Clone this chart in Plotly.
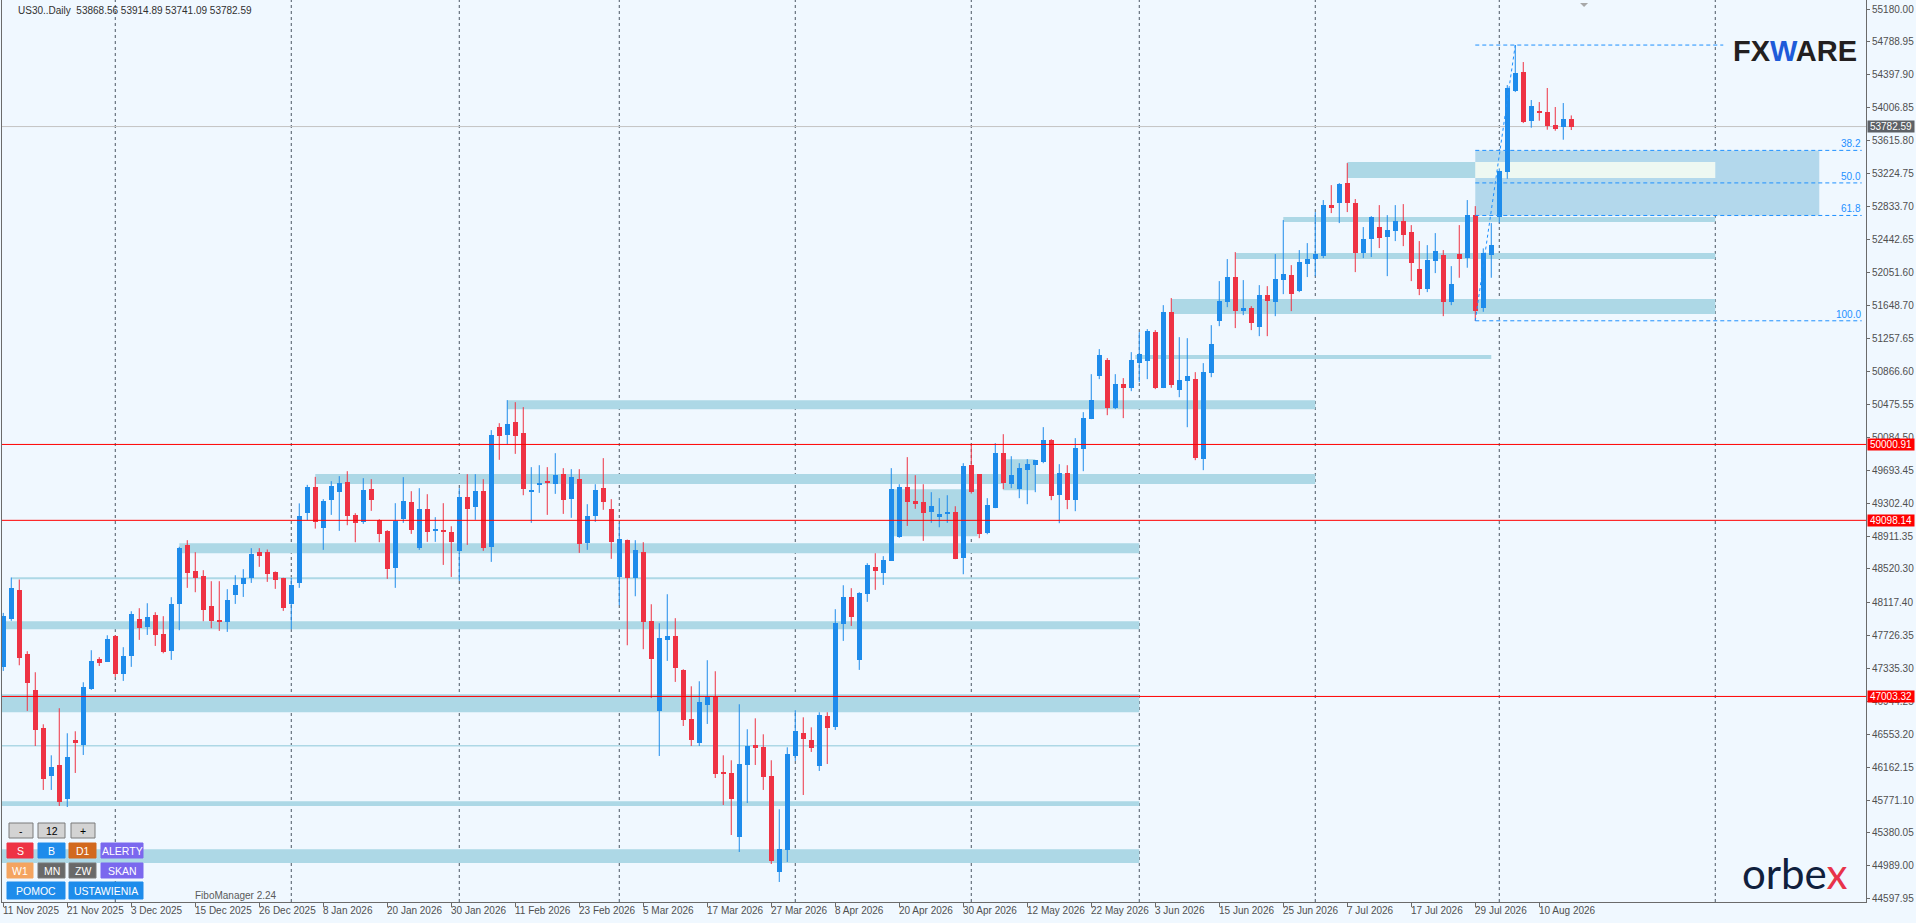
import pandas as pd
import plotly.graph_objects as go

# frame of the MT4 price window, in page pixels
W, H = 1916, 923
PLOT_L, PLOT_R, PLOT_B = 2, 1866, 902
Y_TOP, Y_BOT = 55288, 44558
X_MIN, X_MAX = -0.16, 232.84

FONT = "Liberation Sans, Arial, sans-serif"
BG = "#F0F8FF"
UP = "#1E8CEB"
DOWN = "#EE3344"
ZONE = "#ADD8E6"

SYMBOL = "US30..Daily"
START, END = "2025-11-11", "2026-08-14"
HOLIDAYS = ["2025-12-25", "2026-01-01"]

DATE_LABELS = [
    "11 Nov 2025", "21 Nov 2025", "3 Dec 2025", "15 Dec 2025", "26 Dec 2025",
    "8 Jan 2026", "20 Jan 2026", "30 Jan 2026", "11 Feb 2026", "23 Feb 2026",
    "5 Mar 2026", "17 Mar 2026", "27 Mar 2026", "8 Apr 2026", "20 Apr 2026",
    "30 Apr 2026", "12 May 2026", "22 May 2026", "3 Jun 2026", "15 Jun 2026",
    "25 Jun 2026", "7 Jul 2026", "17 Jul 2026", "29 Jul 2026", "10 Aug 2026",
]

PRICE_TICKS = [
    55180.00, 54788.95, 54397.90, 54006.85, 53615.80, 53224.75, 52833.70,
    52442.65, 52051.60, 51648.70, 51257.65, 50866.60, 50475.55, 50084.50,
    49693.45, 49302.40, 48911.35, 48520.30, 48117.40, 47726.35, 47335.30,
    46944.25, 46553.20, 46162.15, 45771.10, 45380.05, 44989.00, 44597.95,
]

OPEN = [
    47355, 47926, 48267, 47505, 47077, 46625, 46057, 46184, 45784, 46482,
    46426, 47093, 47446, 47414, 47719, 47271, 47485, 47922, 47831, 47969,
    47743, 47545, 48104, 48802, 48493, 48433, 48076, 47910, 47890, 48211,
    48342, 48414, 48719, 48719, 48481, 48410, 48104, 48354, 49180, 49493,
    49009, 49342, 49437, 49552, 49159, 49080, 49469, 49100, 48969, 48533,
    49116, 49314, 48771, 49231, 48973, 48981, 48957, 48735, 49374, 49259,
    49445, 48782, 50207, 50111, 50266, 50135, 49437, 49520, 49564, 49532,
    49647, 49354, 49588, 48830, 49151, 49481, 49231, 48426, 48862, 48414,
    48719, 47898, 46831, 47676, 47719, 47315, 46731, 46450, 46902, 46997,
    46097, 46093, 45331, 46188, 46422, 46398, 46053, 44915, 45177, 46295,
    46565, 46482, 46176, 46767, 46640, 47866, 48184, 47438, 48223, 48541,
    48473, 48616, 48902, 49493, 49326, 49314, 49195, 49135, 49175, 49195,
    48652, 49754, 49647, 48945, 49243, 49897, 49528, 49469, 49695, 49754,
    49790, 50052, 49397, 49659, 49338, 49945, 50302, 50813, 51004, 50433,
    50718, 50671, 50968, 50992, 51337, 50671, 51575, 50647, 50754, 50778,
    49826, 50849, 51468, 51694, 51992, 51587, 51623, 51396, 51777, 51694,
    51956, 52015, 51825, 52146, 52206, 52241, 52848, 52872, 53110, 52872,
    52277, 52444, 52587, 52468, 52539, 52658, 52527, 52087, 51849, 52182,
    52253, 51694, 52265, 52221, 52729, 51626, 52257, 52709, 53245, 54205,
    54431, 53852, 53967, 53955, 53800, 53780, 53868.56,
]
HIGH = [
    47997, 48418, 48394, 47541, 47291, 46672, 46303, 46863, 46565, 46589,
    47172, 47553, 47470, 47731, 47731, 47589, 48017, 48053, 48112, 48005,
    47958, 48184, 48783, 48862, 48719, 48505, 48374, 48374, 48279, 48445,
    48517, 48767, 48767, 48751, 48490, 48415, 48414, 49300, 49520, 49615,
    49350, 49564, 49624, 49683, 49183, 49600, 49588, 49112, 48981, 49302,
    49612, 49445, 49481, 49409, 49136, 49302, 49028, 49481, 49647, 49647,
    49588, 50171, 50254, 50528, 50504, 50445, 49731, 49754, 49731, 49897,
    49719, 49707, 49707, 49290, 49528, 49838, 49350, 49064, 48870, 48862,
    48838, 48100, 47874, 48219, 47934, 47327, 47124, 47184, 47434, 47303,
    46303, 46244, 46910, 46613, 46743, 46553, 46244, 45661, 46398, 46839,
    46755, 46636, 46815, 46815, 48041, 48326, 48291, 48243, 48588, 48707,
    48672, 49719, 49528, 49850, 49635, 49528, 49433, 49362, 49397, 49266,
    49778, 50004, 49647, 49362, 50016, 50123, 49861, 49778, 49826, 49814,
    50207, 50064, 49766, 49754, 50076, 50385, 50837, 51135, 51028, 50837,
    50790, 51099, 51337, 51373, 51361, 51658, 51742, 51277, 51265, 50861,
    50968, 51420, 51944, 52206, 52289, 51956, 51646, 51896, 51884, 52265,
    52670, 52134, 52313, 52396, 52765, 52908, 53086, 53110, 53348, 52920,
    52587, 52717, 52848, 52729, 52848, 52860, 52610, 52420, 52372, 52515,
    52313, 52122, 52610, 52908, 52836, 52333, 52634, 53285, 54276, 54752,
    54550, 54098, 54074, 54241, 54015, 54062, 53914.89,
]
LOW = [
    47307, 47902, 47374, 46831, 46414, 45891, 45891, 45700, 45688, 46093,
    46307, 47081, 47366, 47414, 47235, 47188, 47355, 47676, 47735, 47604,
    47517, 47438, 47791, 48295, 48243, 47898, 47815, 47783, 47771, 48104,
    48187, 48354, 48545, 48366, 48283, 48021, 47803, 48295, 49100, 49000,
    48747, 49163, 48973, 49040, 48838, 49056, 49211, 48838, 48402, 48295,
    49068, 48937, 48747, 48842, 48842, 48568, 48425, 48378, 48806, 49104,
    48735, 48604, 49818, 50004, 49889, 49397, 49068, 49425, 49163, 49413,
    49175, 49128, 48711, 48747, 49080, 49223, 48640, 48088, 47612, 48195,
    47565, 46985, 46295, 47426, 47176, 46652, 46414, 46414, 46676, 46033,
    45712, 45355, 45153, 45736, 46188, 45891, 45010, 44796, 45034, 46236,
    45831, 46343, 46117, 46200, 46605, 47664, 47842, 47319, 48128, 48271,
    48330, 48616, 48890, 49032, 49235, 48854, 49068, 49016, 49068, 48636,
    48457, 49417, 48886, 48933, 49243, 49469, 49481, 49362, 49290, 49433,
    49778, 49338, 49064, 49231, 49207, 49683, 50302, 50778, 50349, 50421,
    50314, 50635, 50742, 50778, 50659, 50671, 50675, 50563, 50206, 49814,
    49695, 50801, 51408, 51634, 51385, 51539, 51361, 51289, 51289, 51527,
    51789, 51587, 51813, 51992, 52003, 52218, 52753, 52634, 52765, 52051,
    52218, 52230, 52337, 52003, 52420, 52360, 51944, 51777, 51813, 52039,
    51527, 51658, 51984, 52103, 51472, 51579, 51984, 52638, 53162, 54193,
    53824, 53769, 53852, 53745, 53733, 53626, 53741.09,
]
CLOSE = [
    47957, 48291, 47462, 47164, 46605, 46022, 46160, 45748, 46279, 46450,
    47112, 47422, 47402, 47684, 47271, 47481, 47981, 47819, 47946, 47735,
    47529, 48100, 48771, 48473, 48414, 48033, 47902, 47898, 48148, 48326,
    48410, 48695, 48676, 48461, 48390, 48057, 48326, 49150, 49496, 49080,
    49326, 49505, 49540, 49147, 49068, 49457, 49342, 48937, 48521, 49088,
    49326, 48985, 49231, 48961, 48993, 48961, 48842, 49374, 49235, 49445,
    48771, 50111, 50100, 50242, 50100, 49469, 49457, 49540, 49544, 49635,
    49342, 49612, 48818, 49151, 49457, 49318, 48842, 48874, 48414, 48743,
    47890, 47450, 47696, 47719, 47343, 46724, 46486, 46934, 46997, 46081,
    46081, 45783, 46196, 46410, 46394, 46045, 45046, 45185, 46315, 46589,
    46498, 46390, 46779, 46629, 47874, 48184, 47950, 48231, 48564, 48497,
    48624, 49469, 49493, 49318, 49298, 49187, 49266, 49179, 49195, 48644,
    49742, 49433, 48933, 49278, 49897, 49540, 49635, 49719, 49766, 49814,
    50052, 49385, 49659, 49338, 49957, 50314, 50528, 51063, 50433, 50718,
    50671, 51004, 51075, 51349, 50671, 51575, 50706, 50766, 50813, 49838,
    50861, 51194, 51706, 51992, 51587, 51623, 51444, 51777, 51706, 51968,
    52027, 51789, 52170, 52206, 52265, 52848, 52825, 53098, 52872, 52277,
    52444, 52706, 52456, 52551, 52658, 52491, 52158, 51849, 52194, 52301,
    51694, 51908, 52210, 52729, 51591, 52277, 52372, 53249, 54241, 54419,
    53836, 54023, 53951, 53792, 53757, 53872, 53782.59,
]

# horizontal levels drawn on the chart
RED_LEVELS = [50000.91, 49098.14, 47003.32]
LAST_PRICE = CLOSE[-1]

# supply / demand zones: (from bar, to bar, low, high)
ZONES = [
    (168, 184, 53170, 53360),
    (160, 214, 52647, 52706),
    (154, 214, 52206, 52277),
    (146, 214, 51552, 51730),
    (141.5, 186, 51016, 51064),
    (63, 164, 50421, 50528),
    (39, 164, 49529, 49648),
    (22, 142, 48707, 48826),
    (1, 142, 48398, 48422),
    (-1, 142, 47803, 47898),
    (-1, 142, 46816, 47030),
    (-1, 142, 46408, 46426),
    (-1, 142, 45700, 45756),
    (-1, 142, 45022, 45185),
    (111.2, 121.8, 48910, 49469),
    (125, 129, 49457, 49826),
]
ZONE_XOR = (184, 214, 53170, 53360)

# fibonacci retracement, anchored on swing low and swing high
FIB_LOW_BAR, FIB_HIGH_BAR = 184, 189
FIB_LEVELS = [0.0, 38.2, 50.0, 61.8, 100.0]
FIB_LABELS = ["", "38.2", "50.0", "61.8", "100.0"]

BUTTONS = [
    # text, x0, x1, y0, y1, fill, text colour
    ("-", 9, 33, 823, 838, "#D3D3D3", "#000000"),
    ("12", 38, 65, 823, 838, "#D3D3D3", "#000000"),
    ("+", 71, 95, 823, 838, "#D3D3D3", "#000000"),
    ("S", 7, 33, 843, 858, "#EE3344", "#FFFFFF"),
    ("B", 38, 65, 843, 858, "#1E8CEB", "#FFFFFF"),
    ("D1", 69, 96, 843, 858, "#D2691E", "#FFFFFF"),
    ("ALERTY", 101, 143, 843, 858, "#7B68EE", "#FFFFFF"),
    ("W1", 7, 33, 863, 878, "#F4A460", "#FFFFFF"),
    ("MN", 38, 65, 863, 878, "#696969", "#FFFFFF"),
    ("ZW", 69, 96, 863, 878, "#696969", "#FFFFFF"),
    ("SKAN", 101, 143, 863, 878, "#7B68EE", "#FFFFFF"),
    ("POMOC", 7, 65, 882, 899, "#1E8CEB", "#FFFFFF"),
    ("USTAWIENIA", 69, 143, 882, 899, "#1E8CEB", "#FFFFFF"),
]


def xp(px):
    return (px - PLOT_L) / (PLOT_R - PLOT_L)


def yp(py):
    return 1 - py / PLOT_B


dates = pd.bdate_range(START, END)
dates = dates[~dates.isin(pd.to_datetime(HOLIDAYS))]
n = len(CLOSE)
bars = list(range(n))

# month starts -> vertical grid (plus the one drawn in the future area)
grid_bars = [i for i in range(1, n) if dates[i].month != dates[i - 1].month] + [214]

fig = go.Figure()

# bodies
body_base = [min(o, c) for o, c in zip(OPEN, CLOSE)]
body_h = [max(abs(c - o), 12) for o, c in zip(OPEN, CLOSE)]
colors = [UP if c >= o else DOWN for o, c in zip(OPEN, CLOSE)]

for col in (UP, DOWN):
    xs, ys = [], []
    for i in bars:
        if colors[i] == col:
            xs += [i, i, None]
            ys += [LOW[i], HIGH[i], None]
    fig.add_trace(go.Scatter(x=xs, y=ys, mode="lines", line=dict(color=col, width=1),
                             hoverinfo="skip", showlegend=False))

fig.add_trace(go.Bar(x=bars, y=body_h, base=body_base, width=0.625,
                     marker=dict(color=colors, line=dict(width=0)),
                     showlegend=False, hoverinfo="skip"))

shapes = []

# fib zone fill
fib_hi, fib_lo = HIGH[FIB_HIGH_BAR], LOW[FIB_LOW_BAR]
fib_price = [fib_hi - lv / 100 * (fib_hi - fib_lo) for lv in FIB_LEVELS]
shapes.append(dict(type="rect", xref="x", yref="y", layer="below",
                   x0=FIB_LOW_BAR, x1=227, y0=fib_price[3], y1=fib_price[1],
                   fillcolor="#B3D8EC", line=dict(width=0)))

for x0, x1, lo, hi in ZONES:
    shapes.append(dict(type="rect", xref="x", yref="y", layer="below",
                       x0=x0, x1=x1, y0=lo, y1=hi, fillcolor=ZONE, line=dict(width=0)))
x0, x1, lo, hi = ZONE_XOR
shapes.append(dict(type="rect", xref="x", yref="y", layer="below",
                   x0=x0, x1=x1, y0=lo, y1=hi, fillcolor="#EEF8F2", line=dict(width=0)))

# month grid
for g in grid_bars:
    shapes.append(dict(type="line", xref="x", yref="paper", layer="below",
                       x0=g, x1=g, y0=0, y1=1,
                       line=dict(color="#4B5663", width=1, dash="3px,3px")))

# last price line
shapes.append(dict(type="line", xref="paper", yref="y", layer="below",
                   x0=0, x1=1, y0=LAST_PRICE, y1=LAST_PRICE,
                   line=dict(color="#C4C4C4", width=1)))

# red levels
for lv in RED_LEVELS:
    shapes.append(dict(type="line", xref="paper", yref="y", layer="above",
                       x0=0, x1=1, y0=lv, y1=lv, line=dict(color="#FF0000", width=1)))

# fib lines
for lv, pr in zip(FIB_LEVELS, fib_price):
    end = 215 if lv == 0 else 232.3
    shapes.append(dict(type="line", xref="x", yref="y", layer="above",
                       x0=FIB_LOW_BAR, x1=end, y0=pr, y1=pr,
                       line=dict(color="#1E90FF", width=1, dash="4px,3px")))
shapes.append(dict(type="line", xref="x", yref="y", layer="above",
                   x0=FIB_LOW_BAR, x1=FIB_HIGH_BAR, y0=fib_lo, y1=fib_hi,
                   line=dict(color="#1E90FF", width=1, dash="dot")))

# chart-shift marker
shapes.append(dict(type="path", xref="x", yref="y", layer="above",
                   path="M 197.1,55252 L 198.1,55252 L 197.6,55205 Z",
                   fillcolor="#A8A8A8", line=dict(width=0)))

# button frames
for txt, bx0, bx1, by0, by1, fill, fc in BUTTONS:
    border = "#7A7A7A" if fill in ("#D3D3D3", "#696969") else fill
    shapes.append(dict(type="rect", xref="paper", yref="paper", layer="above",
                       x0=xp(bx0), x1=xp(bx1), y0=yp(by1), y1=yp(by0),
                       fillcolor=fill, line=dict(color=border, width=1)))

annotations = []

for lv, pr, lab in zip(FIB_LEVELS, fib_price, FIB_LABELS):
    if lab:
        annotations.append(dict(x=232.3, y=pr, xref="x", yref="y", text=lab,
                                xanchor="right", yanchor="bottom", showarrow=False,
                                font=dict(family=FONT, size=10, color="#1E90FF"),
                                borderpad=0))

# date labels along the time scale
for k, lab in enumerate(DATE_LABELS):
    annotations.append(dict(x=k * 8, y=0, xref="x", yref="paper", text=lab,
                            xanchor="left", yanchor="top", yshift=-2, xshift=-1,
                            showarrow=False, borderpad=0,
                            font=dict(family=FONT, size=10, color="#4F4F4F")))

# price boxes on the scale
for pr, bg in [(LAST_PRICE, "#5D6166")] + [(lv, "#FF0000") for lv in RED_LEVELS]:
    annotations.append(dict(x=1, y=pr, xref="paper", yref="y", text=f"{pr:.2f}",
                            xanchor="left", yanchor="middle", xshift=1,
                            showarrow=False, bgcolor=bg, borderpad=0,
                            width=46, height=11, align="center",
                            font=dict(family=FONT, size=10, color="#FFFFFF")))

for txt, bx0, bx1, by0, by1, fill, fc in BUTTONS:
    annotations.append(dict(x=xp((bx0 + bx1) / 2), y=yp((by0 + by1) / 2),
                            xref="paper", yref="paper", text=txt, showarrow=False,
                            xanchor="center", yanchor="middle",
                            font=dict(family=FONT, size=10.5, color=fc)))

annotations.append(dict(x=xp(193), y=yp(895), xref="paper", yref="paper",
                        text="FiboManager 2.24", xanchor="left", yanchor="middle",
                        showarrow=False, font=dict(family=FONT, size=10, color="#5A5A5A")))

header = f"{SYMBOL}  {OPEN[-1]:.2f} {HIGH[-1]:.2f} {LOW[-1]:.2f} {CLOSE[-1]:.2f}"
annotations.append(dict(x=xp(16), y=yp(10), xref="paper", yref="paper", text=header,
                        xanchor="left", yanchor="middle", showarrow=False,
                        font=dict(family=FONT, size=10, color="#303030")))

annotations.append(dict(x=xp(1795), y=yp(51), xref="paper", yref="paper",
                        text="<b>FX<span style='color:#1E5BD9'>W</span>ARE</b>",
                        xanchor="center", yanchor="middle", showarrow=False,
                        font=dict(family="Liberation Sans, Arial, sans-serif", size=29,
                                  color="#231F20")))
annotations.append(dict(x=xp(1795), y=yp(873), xref="paper", yref="paper",
                        text="orbe<span style='color:#E8334A'>x</span>",
                        xanchor="center", yanchor="middle", showarrow=False,
                        font=dict(family="Lato, Inter, sans-serif", size=42,
                                  color="#10203D")))

fig.update_layout(
    width=W, height=H,
    margin=dict(l=PLOT_L, r=W - PLOT_R, t=0, b=H - PLOT_B),
    paper_bgcolor=BG, plot_bgcolor=BG,
    barmode="overlay", bargap=0,
    showlegend=False,
    shapes=shapes, annotations=annotations,
    xaxis=dict(range=[X_MIN, X_MAX], showgrid=False, zeroline=False,
               tickvals=list(range(0, n, 8)), ticks="outside", ticklen=4,
               tickcolor="#6B6B6B", showticklabels=False,
               showline=True, linecolor="#6B6B6B", linewidth=1, fixedrange=True),
    yaxis=dict(range=[Y_BOT, Y_TOP], side="right", showgrid=False, zeroline=False,
               tickvals=PRICE_TICKS, ticktext=[f"{p:.2f}" for p in PRICE_TICKS],
               ticks="outside", ticklen=3, tickcolor="#6B6B6B",
               tickfont=dict(family=FONT, size=10, color="#4F4F4F"),
               showline=True, mirror=True, linecolor="#6B6B6B", linewidth=1,
               fixedrange=True),
)

fig.write_html("out.html", config={"displayModeBar": False},
               post_script="document.body.style.margin='0';"
               "document.body.style.background='#F0F8FF';")
